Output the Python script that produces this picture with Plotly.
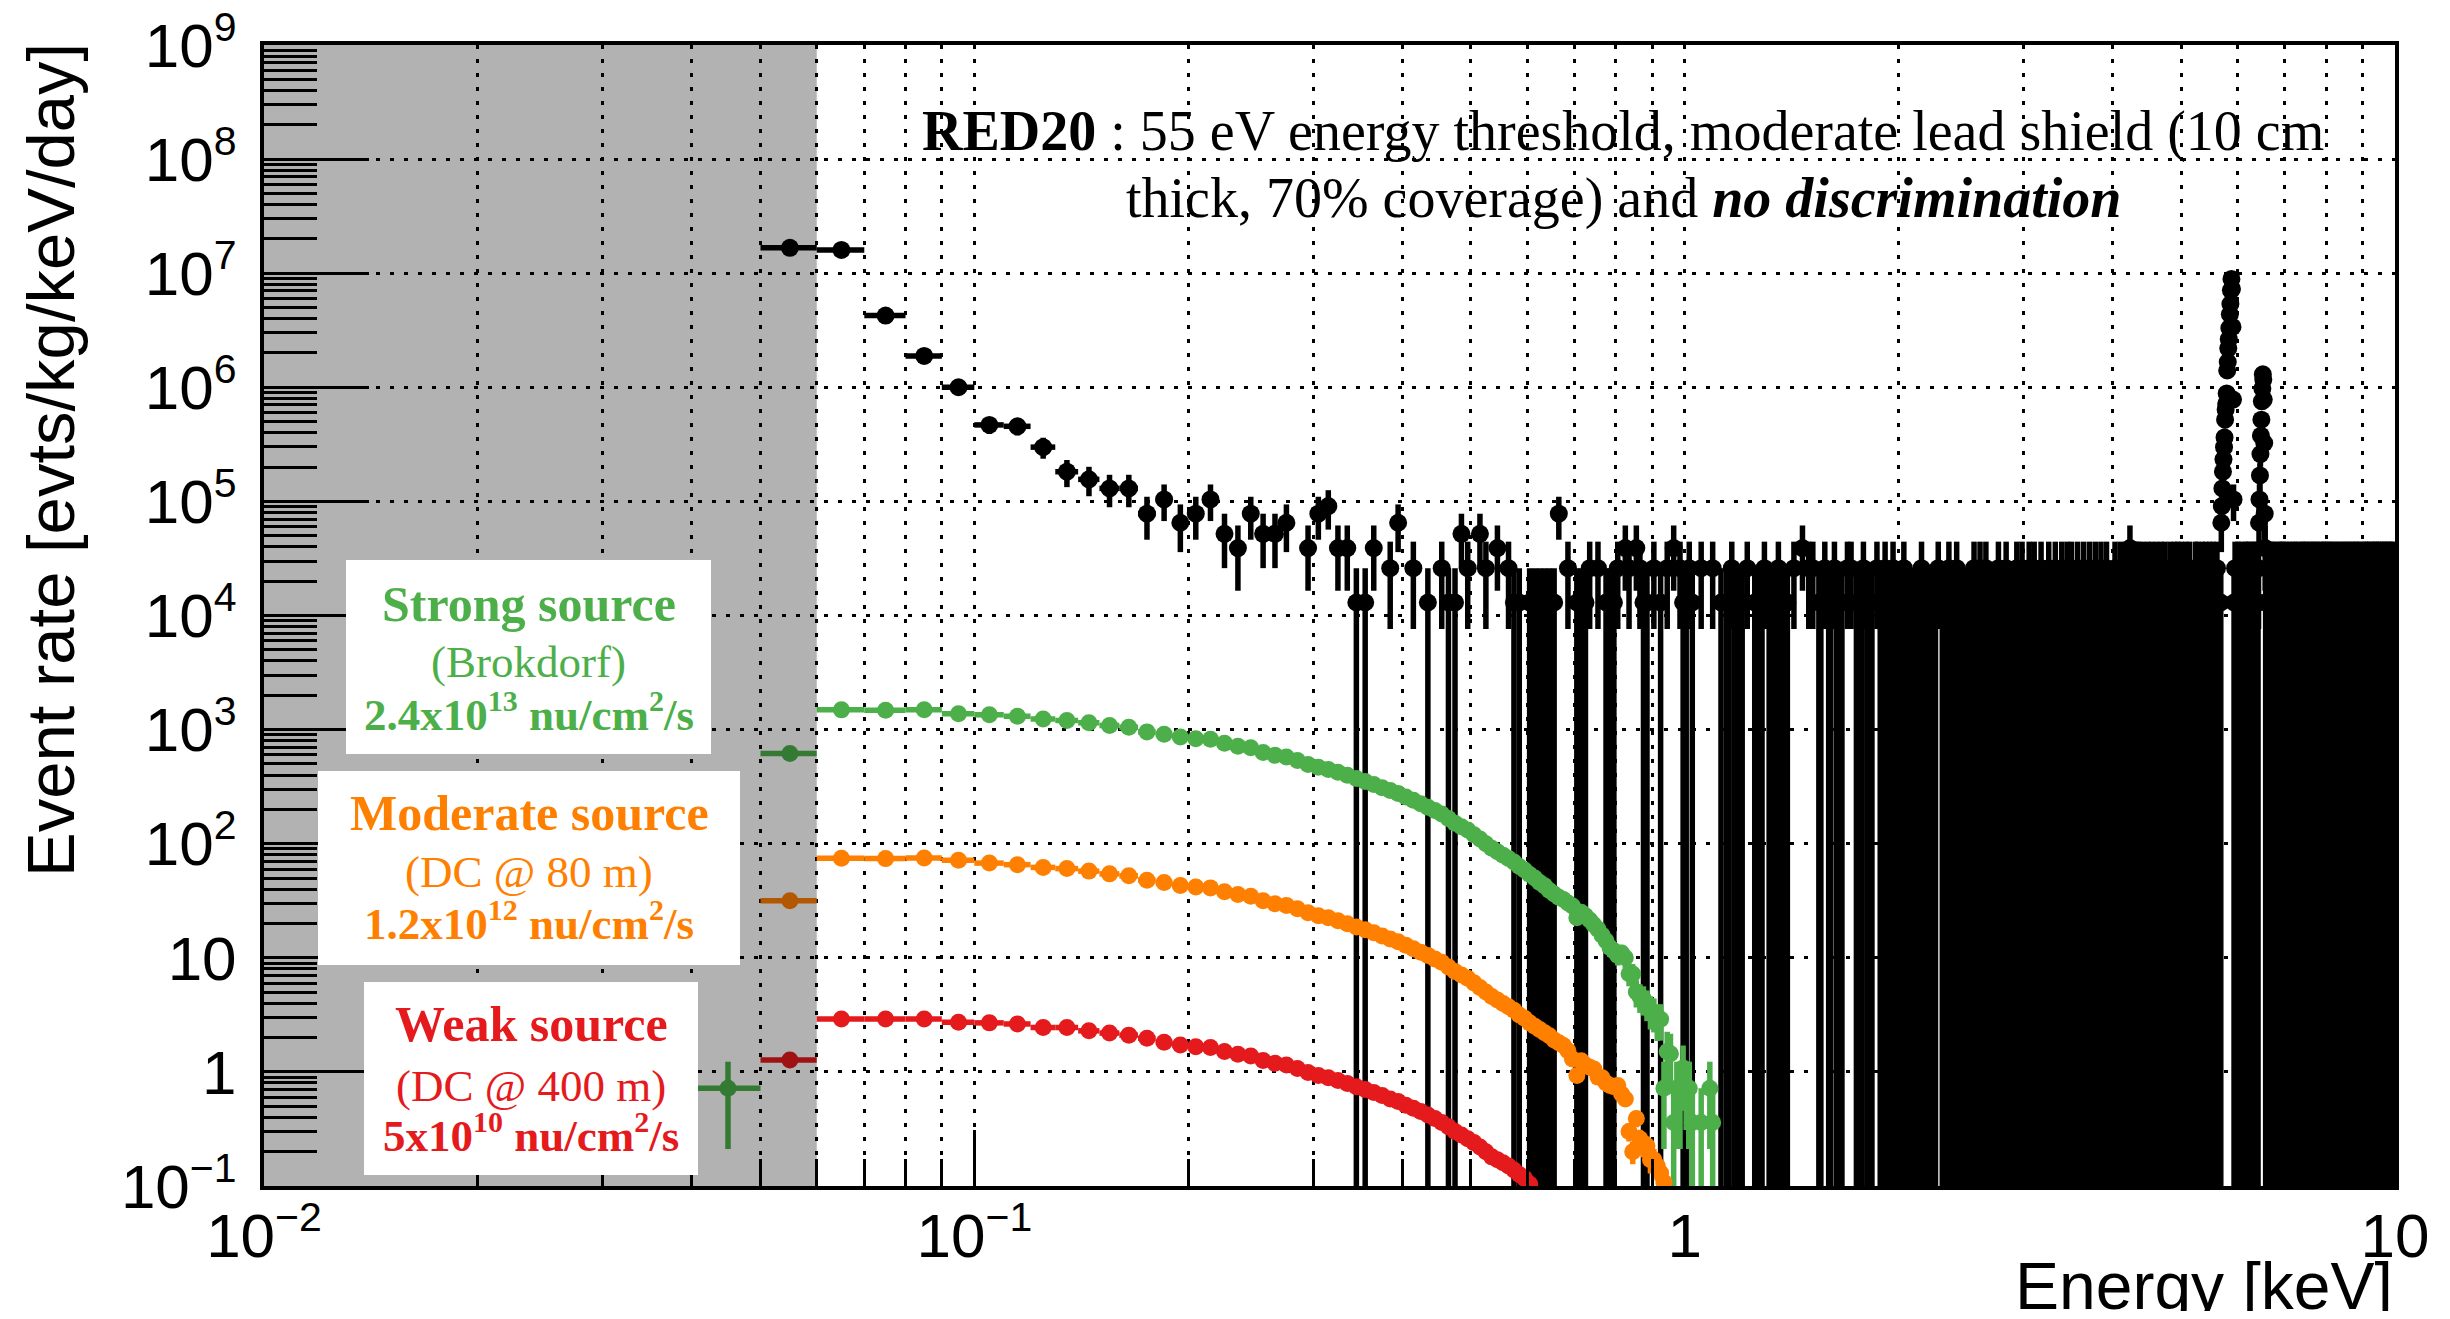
import math
import plotly.graph_objects as go

# ---------------- data ----------------
BIN_WIDTH = 0.01            # keV, histogram bin width
COUNT_TO_RATE = 1.3e4       # evts/kg/keV/day corresponding to one count in a bin
THRESHOLD_KEV = 0.06        # upper edge of the grey (below threshold) region

# Background spectrum (black), counts per 0.01 keV bin, first bin lower edge 0.05 keV
black_low_first_edge = 0.05
black_low_counts = [1285, 1230, 327, 145, 77, 36, 35, 23, 14, 12,
                    10, 10, 6, 8, 5, 6, 8, 4, 3, 6,
                    4, 4, 5, 0, 3, 6, 7, 3, 3, 1,
                    1, 3, 0, 2, 5, 0, 2, 0, 1, 0,
                    2, 1, 1, 4, 2, 0, 4, 2, 0, 3,
                    0, 2, 1, 1, 0, 1, 1, 1, 1, 1,
                    1, 6, 0, 2, 0, 1, 1, 1, 2, 0,
                    2, 0, 1, 1, 1, 2, 0, 3, 2, 0,
                    3, 2, 1, 1, 0, 2, 0, 1, 0, 2,
                    0, 3, 0, 2, 1]

# 1.00 - 10.00 keV, one digit per 0.01 keV bin (counts), 50 bins per row
black_high_first_edge = 1.00
black_high_rows = [
    "121" "002000200" "10" "1121011" "0200" "1011" "20" "110121101" "0020003002",
    "020" "011" "020" "11021101" "002" "0200" "1101201101" "0020" "110210112011",
    "1102101101" "1011021101" "011011" "0200" "1101021101" "1201101011",
    "101102110" "02" "1101201101" "1011021101" "1021101101" "1021011" "20",
    "1101021101" "2011010211" "0110120101" "1020110112" "0101121010",
    "2110101201" "1010210110" "1201101021" "0111020110" "1021011101",
    "1012011010" "2101100201" "1103101021" "012" "00200" "11" "1201011021",
    "1101201011" "0211010120" "1011201101" "0121101102" "1010211011",
    "2101101210" "1102011011" "0112101201" "1011021101" "1201101120",
    "1011210110" "120110101" "000000000000000000000000" "1021101",
    "1210110201" "1011021012" "0110201101" "1201021011012" "0000000",
    "0000000" "101120110" "1210110201" "0112011011" "0210112011" "2101",
    "1102101101" "2011011020" "1101211010" "1210110112" "0110210111",
    "2011010121" "1010211011" "0211011201" "1101021101" "1120110210",
    "1011201101" "2110110201" "1011021110" "0121101101" "2101101120",
    "1101120110" "1021101101" "2011011021" "1101210110" "1021101101",
    "1201101121" "0110210111" "0210110120" "1101102110" "2011010211",
    "1011201101" "1210110201" "1101120110" "2101011021" "1101210111",
]

# Mn K-alpha / K-beta calibration peaks (counts per bin)
ka_first_edge = 5.69
ka_counts = [5, 7, 10, 14, 18, 23, 28, 40, 49, 55, 68, 108, 128, 169, 203,
             254, 336, 413, 545, 685, 560, 260, 60, 8]
kb_first_edge = 6.43
kb_counts = [5, 8, 13, 20, 29, 40, 58, 75, 100, 90, 60, 25, 6, 3]

# Expected CEvNS signals (evts/kg/keV/day), one value per 0.01 keV bin
strong_first_edge = 0.04
strong_rate = [0.72, 617, 1489, 1480, 1495, 1380, 1349, 1309, 1239, 1202,
               1148, 1086, 1047, 955, 912, 861, 832, 822, 759, 716,
               692, 631, 596, 575, 537, 495, 468, 447, 422, 398,
               372, 351, 331, 309, 292, 275, 257, 240, 224, 209,
               195, 182, 166, 151, 141, 132, 120, 110, 100, 91.2,
               85.1, 79.4, 74.1, 69.2, 63.1, 58.9, 53.7, 50.1, 45.7, 42.7,
               38.9, 36.3, 33.9, 32.4, 30.2, 28.5, 22.4, 25.1, 23.4, 21.4,
               19.5, 17.8, 15.8, 14.1, 12.3, 11.5, 10.5, 11.0, 10.0, 7.24,
               7.2, 5.01, 4.57, 4.37, 3.98, 3.47, 3.31, 2.88, 2.9, 0.72,
               1.51, 1.44, 0.36, 0.72, 0.72, 1.08, 0.72, 0.72, 0.36, None,
               None, 0.36, None, None, 0.72, 0.36]
strong_weight = 0.36

moderate_first_edge = 0.05
moderate_rate = [31.6, 74.6, 74.0, 75.0, 71.5, 67.6, 65.5, 62.0, 60.5, 57.5,
                 54.4, 52.3, 47.9, 45.7, 43.0, 41.7, 41.0, 38.0, 35.8, 34.7,
                 31.6, 29.8, 28.8, 26.9, 24.8, 23.4, 22.4, 21.1, 19.9, 18.6,
                 17.6, 16.6, 15.5, 14.6, 13.8, 12.9, 12.0, 11.2, 10.5, 9.77,
                 9.12, 8.32, 7.59, 7.08, 6.61, 6.03, 5.50, 5.01, 4.57, 4.27,
                 3.98, 3.72, 3.47, 3.16, 2.95, 2.69, 2.51, 2.35, 2.20, 2.07,
                 1.90, 1.80, 1.70, 1.53, 1.30, 0.93, 1.25, 1.15, 1.10, 1.06,
                 0.90, 0.89, 0.80, 0.76, 0.74, 0.76, 0.64, 0.58, 0.30, 0.20,
                 0.39, 0.26, 0.225, 0.225, 0.17, 0.17, 0.15, 0.13, 0.108]
moderate_weight = 0.01

weak_first_edge = 0.05
weak_rate = [1.27, 2.91, 2.91, 2.91, 2.72, 2.69, 2.63, 2.45, 2.45, 2.29,
             2.19, 2.10, 1.97, 1.82, 1.72, 1.66, 1.64, 1.51, 1.43, 1.38,
             1.26, 1.19, 1.15, 1.07, 0.99, 0.93, 0.89, 0.84, 0.79, 0.74,
             0.70, 0.66, 0.62, 0.58, 0.55, 0.51, 0.48, 0.45, 0.42, 0.39,
             0.36, 0.33, 0.30, 0.28, 0.26, 0.24, 0.22, 0.20, 0.18, 0.17,
             0.16, 0.15, 0.138, 0.126, 0.117, 0.104]
weak_weight = 0.0008

# axis ticks
x_tick_exponents = [-2, -1, 0, 1]
y_tick_exponents = [-1, 0, 1, 2, 3, 4, 5, 6, 7, 8, 9]
minor_mantissas = [2, 3, 4, 5, 6, 7, 8, 9]

GREEN, ORANGE, RED = "#4daf4a", "#ff7f00", "#e41a1c"

# ---------------- build histogram points ----------------
bx, bn = [], []


def add_counts(first_edge, counts):
    for i, n in enumerate(counts):
        if n > 0:
            bx.append(first_edge + (i + 0.5) * BIN_WIDTH)
            bn.append(n)


add_counts(black_low_first_edge, black_low_counts)
add_counts(black_high_first_edge, [int(c) for c in "".join(black_high_rows)])
add_counts(ka_first_edge, ka_counts)
add_counts(kb_first_edge, kb_counts)
by = [n * COUNT_TO_RATE for n in bn]
berr = [math.sqrt(n) * COUNT_TO_RATE for n in bn]


def rate_points(first_edge, rates, weight):
    xs, ys, es = [], [], []
    for i, v in enumerate(rates):
        if v is None:
            continue
        xs.append(first_edge + (i + 0.5) * BIN_WIDTH)
        ys.append(v)
        es.append(math.sqrt(v * weight))
    return xs, ys, es


ERR_T = 5.5
fig = go.Figure()

fig.add_trace(go.Scatter(
    x=bx, y=by, mode="markers",
    marker=dict(color="black", size=18),
    error_y=dict(type="data", array=berr, arrayminus=berr, color="black",
                 thickness=ERR_T, width=0),
    error_x=dict(type="data", array=[BIN_WIDTH / 2] * len(bx), color="black",
                 thickness=ERR_T, width=0),
    showlegend=False, hoverinfo="skip"))

for first, rates, w, col in [(strong_first_edge, strong_rate, strong_weight, GREEN),
                             (moderate_first_edge, moderate_rate, moderate_weight, ORANGE),
                             (weak_first_edge, weak_rate, weak_weight, RED)]:
    xs, ys, es = rate_points(first, rates, w)
    fig.add_trace(go.Scatter(
        x=xs, y=ys, mode="markers",
        marker=dict(color=col, size=17),
        error_y=dict(type="data", array=es, arrayminus=es, color=col,
                     thickness=ERR_T, width=0),
        error_x=dict(type="data", array=[BIN_WIDTH / 2] * len(xs), color=col,
                     thickness=ERR_T, width=0),
        showlegend=False, hoverinfo="skip"))

# ---------------- layout ----------------
# The page body has an 8 px margin: the figure is sized so that the plot area
# lands on page pixels x 264..2395, y 45..1186.
PAGE_OFF = 8
PLOT_L, PLOT_R, PLOT_T, PLOT_B = 264, 2395, 45, 1186
FIG_W, FIG_H = 2450 - 2 * PAGE_OFF, 1319 - 2 * PAGE_OFF
ML = PLOT_L - PAGE_OFF
MT = PLOT_T - PAGE_OFF
MR = FIG_W + PAGE_OFF - PLOT_R
MB = FIG_H + PAGE_OFF - PLOT_B
PW, PH = PLOT_R - PLOT_L, PLOT_B - PLOT_T


def fx(px):
    return (px - PLOT_L) / PW


def fy(py):
    return (PLOT_B - py) / PH


SANS = "Liberation Sans, Arial, sans-serif"
SERIF = "Liberation Serif, Times New Roman, serif"
AX_FONT = dict(family=SANS, size=62, color="black")
SUP = "<sup><span style='font-size:41px'>%s</span></sup>"
GRID_DASH = "4px,10px"


def power_label(p):
    if p == 0:
        return "1"
    if p == 1:
        return "10"
    return "10" + SUP % (("\u2212" if p < 0 else "") + str(abs(p)))


def minor_vals(exps):
    out = []
    for e in exps[:-1]:
        out += [m * 10 ** e for m in minor_mantissas]
    return out


fig.update_xaxes(
    type="log", range=[-2, 1], showline=True, mirror=True, linecolor="black",
    linewidth=4, ticks="inside", ticklen=56, tickwidth=3, tickcolor="black",
    tickmode="array", tickvals=[10 ** e for e in x_tick_exponents],
    ticktext=[power_label(e) for e in x_tick_exponents],
    tickfont=AX_FONT, ticklabelstandoff=-7, ticklabeloverflow="allow",
    showgrid=True, gridcolor="black", gridwidth=3, griddash=GRID_DASH,
    zeroline=False,
    minor=dict(ticks="inside", ticklen=27, tickwidth=3, tickcolor="black",
               tickmode="array", tickvals=minor_vals(x_tick_exponents),
               showgrid=True, gridcolor="black", gridwidth=3, griddash=GRID_DASH))
fig.update_yaxes(
    type="log", range=[-1, 9], showline=True, mirror=True, linecolor="black",
    linewidth=4, ticks="inside", ticklen=105, tickwidth=3, tickcolor="black",
    tickmode="array", tickvals=[10 ** e for e in y_tick_exponents],
    ticktext=[power_label(e) for e in y_tick_exponents],
    tickfont=AX_FONT, ticklabelstandoff=11, ticklabeloverflow="allow",
    showgrid=True, gridcolor="black", gridwidth=3, griddash=GRID_DASH,
    zeroline=False,
    minor=dict(ticks="inside", ticklen=53, tickwidth=3, tickcolor="black",
               tickmode="array", tickvals=minor_vals(y_tick_exponents),
               showgrid=False))

shapes = [dict(type="rect", xref="x", yref="paper", x0=0.01, x1=THRESHOLD_KEV,
               y0=0, y1=1, fillcolor="black", opacity=0.3, line=dict(width=0),
               layer="above")]
boxes = [(346, 711, 560, 754), (318, 740, 771, 965), (364, 698, 982, 1175)]
for x0, x1, y0, y1 in boxes:
    shapes.append(dict(type="rect", xref="paper", yref="paper",
                       x0=fx(x0), x1=fx(x1), y0=fy(y1), y1=fy(y0),
                       fillcolor="white", line=dict(width=0), layer="above"))

annotations = []


def text_line(txt, cx, baseline, size, color, family):
    annotations.append(dict(
        text=txt, xref="paper", yref="paper", x=fx(cx),
        y=fy(baseline + 0.216 * size), xanchor="center", yanchor="bottom",
        showarrow=False, font=dict(family=family, size=size, color=color)))


text_line("<b>RED20</b> : 55 eV energy threshold, moderate lead shield (10 cm",
          1623, 153, 56, "black", SERIF)
text_line("thick, 70% coverage) and <b><i>no discrimination</i></b>",
          1623, 220, 56, "black", SERIF)

LSUP = "<sup><span style='font-size:30px'>%s</span></sup>"
legend_lines = [
    (528.5, [("<b>Strong source</b>", 623, 50), ("(Brokdorf)", 679, 45),
             ("<b>2.4x10" + LSUP % "13" + " nu/cm" + LSUP % "2" + "/s</b>", 732, 45)],
     GREEN),
    (529, [("<b>Moderate source</b>", 832, 50), ("(DC @ 80 m)", 889, 45),
           ("<b>1.2x10" + LSUP % "12" + " nu/cm" + LSUP % "2" + "/s</b>", 941, 45)],
     ORANGE),
    (531, [("<b>Weak source</b>", 1043, 50), ("(DC @ 400 m)", 1103, 45),
           ("<b>5x10" + LSUP % "10" + " nu/cm" + LSUP % "2" + "/s</b>", 1153, 45)],
     RED),
]
for cx, lines, col in legend_lines:
    for txt, base, size in lines:
        text_line(txt, cx, base, size, col, SERIF)

annotations.append(dict(
    text="Event rate [evts/kg/keV/day]", textangle=-90, xref="paper", yref="paper",
    x=fx(50), y=fy(41), xanchor="center", yanchor="top", showarrow=False,
    font=dict(family=SANS, size=67, color="black")))
annotations.append(dict(
    text="Energy [keV]", xref="paper", yref="paper", x=1.0, y=fy(1247),
    xanchor="right", yanchor="top", showarrow=False,
    font=dict(family=SANS, size=66, color="black")))

fig.update_layout(
    width=FIG_W, height=FIG_H,
    margin=dict(l=ML, r=MR, t=MT, b=MB, autoexpand=False),
    paper_bgcolor="white", plot_bgcolor="white", showlegend=False,
    shapes=shapes, annotations=annotations)

fig.write_html("out.html")
